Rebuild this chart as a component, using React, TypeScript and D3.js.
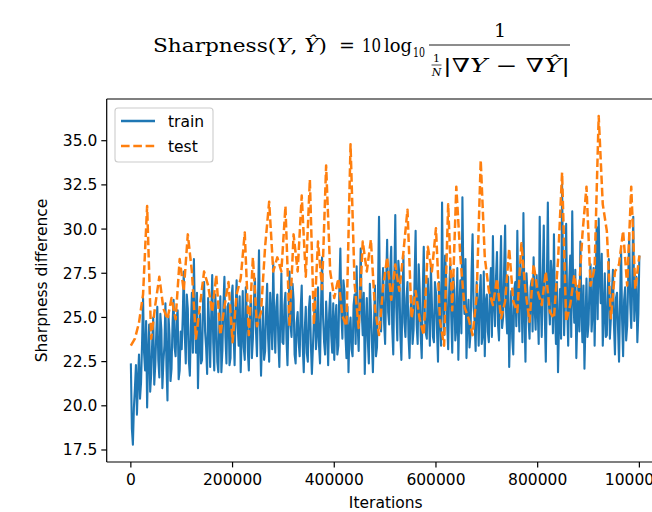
import React from "react";
import * as d3 from "d3";

const seriesNames = ["train", "test"];
const TRAIN_STEP = 2000;
const TEST_STEP = 8000;

const trainValues = [
  22.4, 18.7, 17.8, 19.9, 21.0, 22.3, 19.5, 21.5, 22.9, 20.4, 21.3, 23.5, 26.1, 23.0, 22.0, 24.8, 19.9, 22.9, 24.6, 20.8, 21.8, 23.6, 25.0, 21.2, 22.3, 24.1, 25.6, 22.6, 21.6, 25.2, 24.3, 21.0, 22.5, 23.4, 25.8, 22.3, 20.3, 25.1, 24.0, 21.4, 22.1, 24.7, 26.0, 23.3, 22.8, 24.9, 25.4, 21.5, 22.0, 24.2,
  23.2, 25.0, 27.6, 24.1, 22.4, 26.3, 25.5, 22.6, 21.7, 24.4, 26.4, 23.0, 28.3, 25.1, 23.0, 26.4, 21.0, 23.8, 25.2, 22.4, 22.6, 25.9, 27.0, 24.2, 23.3, 21.8, 26.1, 24.6, 22.2, 25.1, 27.4, 23.6, 22.0, 26.3, 25.0, 22.5, 21.9, 24.8, 26.2, 21.9, 23.1, 25.7, 27.3, 23.9, 22.4, 25.6, 25.8, 22.3, 22.7, 26.2,
  26.8, 24.1, 22.3, 25.4, 27.1, 24.6, 23.4, 26.2, 21.9, 24.0, 26.5, 23.3, 22.6, 26.7, 25.3, 23.1, 22.0, 25.3, 26.0, 22.7, 23.8, 25.9, 27.2, 24.3, 22.8, 26.0, 28.8, 24.4, 21.7, 23.9, 25.6, 22.6, 23.1, 25.4, 26.9, 23.8, 22.5, 26.4, 25.1, 23.2, 28.1, 24.8, 23.0, 25.6, 26.3, 23.7, 22.2, 25.1, 27.5, 23.6,
  23.5, 25.7, 26.4, 23.8, 22.3, 25.0, 27.6, 24.6, 23.9, 26.9, 26.0, 22.9, 22.4, 24.7, 25.3, 23.6, 22.8, 25.5, 26.8, 23.4, 21.9, 24.3, 25.6, 23.0, 22.5, 25.4, 26.2, 23.5, 21.8, 23.3, 24.9, 26.3, 23.2, 24.1, 26.7, 23.4, 22.4, 25.6, 28.4, 25.0, 23.6, 22.9, 25.9, 24.5, 22.3, 25.2, 26.4, 24.0, 23.0, 25.8,
  22.6, 24.8, 25.7, 22.9, 23.4, 26.6, 28.9, 25.2, 23.8, 27.1, 26.5, 24.0, 22.7, 25.6, 21.9, 24.3, 25.0, 23.2, 22.8, 25.7, 26.3, 23.5, 27.9, 24.6, 23.1, 26.0, 28.9, 25.3, 24.0, 26.4, 21.8, 24.5, 26.1, 23.7, 22.4, 26.9, 25.4, 23.6, 21.9, 24.4, 26.8, 22.8, 23.3, 26.5, 30.7, 25.9, 24.2, 26.3, 27.8, 24.7,
  23.5, 26.8, 29.4, 25.3, 24.6, 27.7, 29.0, 24.4, 22.9, 26.9, 30.8, 25.6, 23.7, 28.2, 27.4, 24.0, 22.6, 25.9, 28.5, 24.7, 23.9, 26.1, 27.0, 23.9, 22.7, 25.4, 26.2, 23.5, 24.3, 27.3, 29.9, 24.6, 23.5, 28.0, 26.6, 24.0, 22.7, 26.4, 29.0, 25.2, 24.1, 23.8, 27.2, 25.6, 23.4, 27.9, 25.8, 23.9, 23.6, 27.0,
  26.4, 24.3, 22.5, 27.0, 25.1, 23.4, 31.5, 26.2, 24.0, 28.5, 27.3, 24.7, 23.2, 26.5, 28.0, 25.1, 23.0, 27.4, 26.6, 23.7, 24.4, 27.8, 22.6, 25.4, 27.1, 24.1, 31.8, 26.9, 25.2, 28.3, 22.7, 24.9, 26.0, 23.3, 24.1, 27.5, 29.7, 25.6, 24.8, 23.1, 27.0, 25.8, 23.4, 26.3, 27.4, 23.5, 24.0, 27.6, 22.8, 25.9,
  26.3, 24.2, 23.6, 26.5, 27.8, 23.9, 29.6, 25.8, 24.5, 27.2, 28.7, 24.6, 23.7, 26.9, 29.6, 24.4, 25.0, 27.7, 30.2, 25.3, 24.1, 27.3, 22.2, 24.8, 26.5, 23.8, 22.9, 26.6, 27.0, 24.5, 29.9, 25.9, 24.2, 28.1, 26.8, 23.6, 30.9, 25.4, 22.5, 27.5, 26.3, 24.9, 23.8, 26.7, 27.1, 24.2, 28.4, 25.6, 24.3, 27.4,
  25.6, 23.5, 30.7, 26.0, 23.9, 27.4, 30.2, 25.1, 22.5, 26.8, 31.5, 25.9, 24.6, 28.2, 27.3, 24.1, 29.7, 25.4, 23.5, 27.0, 21.9, 24.6, 26.6, 23.8, 32.5, 27.3, 24.0, 26.4, 30.3, 25.7, 23.4, 26.9, 28.5, 23.9, 31.0, 26.2, 24.7, 27.7, 22.7, 25.0, 26.8, 24.2, 29.3, 25.5, 23.6, 26.8, 22.1, 24.7, 27.2, 23.9,
  24.6, 26.9, 28.0, 24.2, 25.3, 27.8, 23.4, 26.6, 30.1, 24.9, 30.6, 27.3, 25.8, 28.6, 23.4, 25.2, 27.5, 23.9, 24.0, 26.7, 28.3, 23.8, 25.0, 26.4, 27.7, 24.6, 22.9, 26.1, 26.4, 24.4, 22.5, 25.8, 28.9, 24.9, 22.8, 26.0, 26.7, 23.7, 24.5, 27.1, 29.7, 25.8, 24.4, 27.0, 30.7, 24.8, 26.1, 27.3, 23.6, 25.2, 28.5,
];

const testValues = [
  23.4, 23.8, 24.7, 26.3, 31.3, 23.8, 25.7, 27.3, 25.5, 24.9, 26.1, 24.9,
  28.3, 26.5, 29.7, 27.6, 23.8, 25.7, 27.6, 26.8, 25.3, 27.4, 24.0, 25.6, 27.0, 23.6,
  26.3, 27.2, 29.8, 24.0, 28.4, 24.5, 25.3, 29.0, 31.55, 27.6, 28.4, 27.6, 31.3, 24.5, 29.7, 27.6,
  31.9, 27.3, 32.8, 24.6, 29.3, 26.6, 33.6, 27.6, 26.1, 27.2, 25.1, 24.5,
  34.8, 26.9, 24.4, 29.3, 27.6, 29.4, 25.5, 24.0, 26.7, 28.4,
  26.0, 28.0, 26.5, 28.7, 31.1, 24.95, 26.5, 24.9, 24.0, 29.0, 27.6, 30.05,
  24.8, 23.4, 31.4, 25.4, 32.4, 28.4, 25.6, 24.95, 24.0, 26.2, 33.9,
  28.4, 26.5, 25.7, 27.2, 24.95, 25.9, 28.9, 25.9, 25.3, 29.2, 26.5, 24.75, 28.0,
  26.5, 25.7, 27.6, 25.3, 24.95, 28.2, 33.2, 24.75, 25.7, 27.4, 25.9, 29.7, 32.4, 26.8, 27.8,
  36.4, 31.4, 29.9, 24.95, 27.6, 28.0, 29.9, 26.8, 32.4, 26.6, 28.5,
];

const xTickValues = [0, 200000, 400000, 600000, 800000, 1000000];
const xTickLabels = ["0", "200000", "400000", "600000", "800000", "1000000"];
const yTickValues = [17.5, 20, 22.5, 25, 27.5, 30, 32.5, 35];
const yTickLabels = ["17.5", "20.0", "22.5", "25.0", "27.5", "30.0", "32.5", "35.0"];

const BLUE = "#1f77b4";
const ORANGE = "#ff7f0e";
const FONT = "DejaVu Sans, sans-serif";
const SERIF = "DejaVu Serif, Liberation Serif, serif";

export default function App() {
  const W = 652;
  const H = 512;
  const left = 106.7;
  const right = 664.8;
  const top = 99;
  const bottom = 462;

  const x = d3.scaleLinear().domain([-47500, 1050000]).range([left, right]);
  const y = d3.scaleLinear().domain([16.82, 37.36]).range([bottom, top]);

  const trainData = trainValues.map((v, i) => ({ it: i * TRAIN_STEP, v }));
  const testData = testValues.map((v, i) => ({ it: i * TEST_STEP, v }));

  const line = d3
    .line<{ it: number; v: number }>()
    .x((d) => x(d.it))
    .y((d) => y(d.v));

  const tickLen = 5.4;
  const fs = 15.5;

  return (
    <svg
      width={W}
      height={H}
      style={{ position: "absolute", left: 0, top: 0, background: "#fff" }}
    >
      <rect x={0} y={0} width={W} height={H} fill="#fff" />
      <defs>
        <clipPath id="plotclip">
          <rect x={left} y={top} width={right - left} height={bottom - top} />
        </clipPath>
      </defs>

      {/* Title */}
      <g fill="#000" fontFamily={SERIF}>
        <text x={153} y={52} fontSize={19} textLength={174} lengthAdjust="spacingAndGlyphs">
          Sharpness(<tspan fontStyle="italic">Y</tspan>, <tspan fontStyle="italic">Ŷ</tspan>)
        </text>
        <text x={347} y={52} fontSize={19} textAnchor="middle">=</text>
        <text x={362} y={52} fontSize={19} textLength={19} lengthAdjust="spacingAndGlyphs">10</text>
        <text x={384} y={52} fontSize={19} textLength={28} lengthAdjust="spacingAndGlyphs">log</text>
        <text x={413} y={57} fontSize={12} textLength={12} lengthAdjust="spacingAndGlyphs">10</text>
        <text x={500} y={37} fontSize={19} textAnchor="middle">1</text>
        <line x1={429} x2={570} y1={45} y2={45} stroke="#000" strokeWidth={0.9} />
        <text x={436.5} y={62} fontSize={11} textAnchor="middle">1</text>
        <line x1={431.5} x2={441.5} y1={65} y2={65} stroke="#000" strokeWidth={0.7} />
        <text x={436.5} y={76} fontSize={11} textAnchor="middle" fontStyle="italic">N</text>
        <text x={443} y={72} fontSize={19} textLength={127} lengthAdjust="spacingAndGlyphs">
          |∇<tspan fontStyle="italic">Y</tspan> − ∇<tspan fontStyle="italic">Ŷ</tspan>|
        </text>
      </g>

      {/* Lines */}
      <g clipPath="url(#plotclip)">
        <path
          d={line(trainData) || ""}
          fill="none"
          stroke={BLUE}
          strokeWidth={2.1}
          strokeLinejoin="round"
          strokeLinecap="butt"
        />
        <path
          d={line(testData) || ""}
          fill="none"
          stroke={ORANGE}
          strokeWidth={2.5}
          strokeDasharray="8.6 3.7"
          strokeLinejoin="round"
        />
      </g>

      {/* Spines */}
      <g stroke="#000" strokeWidth={1.2} fill="none">
        <line x1={left} x2={left} y1={top} y2={bottom} />
        <line x1={left} x2={right} y1={bottom} y2={bottom} />
        <line x1={left} x2={right} y1={top} y2={top} />
        <line x1={right} x2={right} y1={top} y2={bottom} />
      </g>

      {/* Ticks and labels */}
      <g fontFamily={FONT} fontSize={fs} fill="#000">
        {xTickValues.map((t, i) => (
          <g key={"x" + t}>
            <line x1={x(t)} x2={x(t)} y1={bottom} y2={bottom + tickLen} stroke="#000" strokeWidth={1.2} />
            <text x={x(t)} y={bottom + tickLen + 18} textAnchor="middle">
              {xTickLabels[i]}
            </text>
          </g>
        ))}
        {yTickValues.map((t, i) => (
          <g key={"y" + t}>
            <line x1={left - tickLen} x2={left} y1={y(t)} y2={y(t)} stroke="#000" strokeWidth={1.2} />
            <text x={left - tickLen - 4} y={y(t) + 5.5} textAnchor="end">
              {yTickLabels[i]}
            </text>
          </g>
        ))}
        <text x={(left + right) / 2} y={508} textAnchor="middle">Iterations</text>
        <text
          transform={`translate(47, ${(top + bottom) / 2}) rotate(-90)`}
          textAnchor="middle"
        >
          Sharpness difference
        </text>
      </g>

      {/* Legend */}
      <g fontFamily={FONT} fontSize={fs}>
        <rect x={115} y={108} width={98} height={54} rx={3} fill="#fff" fillOpacity={0.8} stroke="#cccccc" strokeWidth={1.1} />
        <line x1={121} x2={155} y1={121} y2={121} stroke={BLUE} strokeWidth={2.5} />
        <text x={168} y={126.5} fill="#000">{seriesNames[0]}</text>
        <line x1={121} x2={155} y1={146} y2={146} stroke={ORANGE} strokeWidth={2.5} strokeDasharray="8.6 3.7" />
        <text x={168} y={151.5} fill="#000">{seriesNames[1]}</text>
      </g>
    </svg>
  );
}
